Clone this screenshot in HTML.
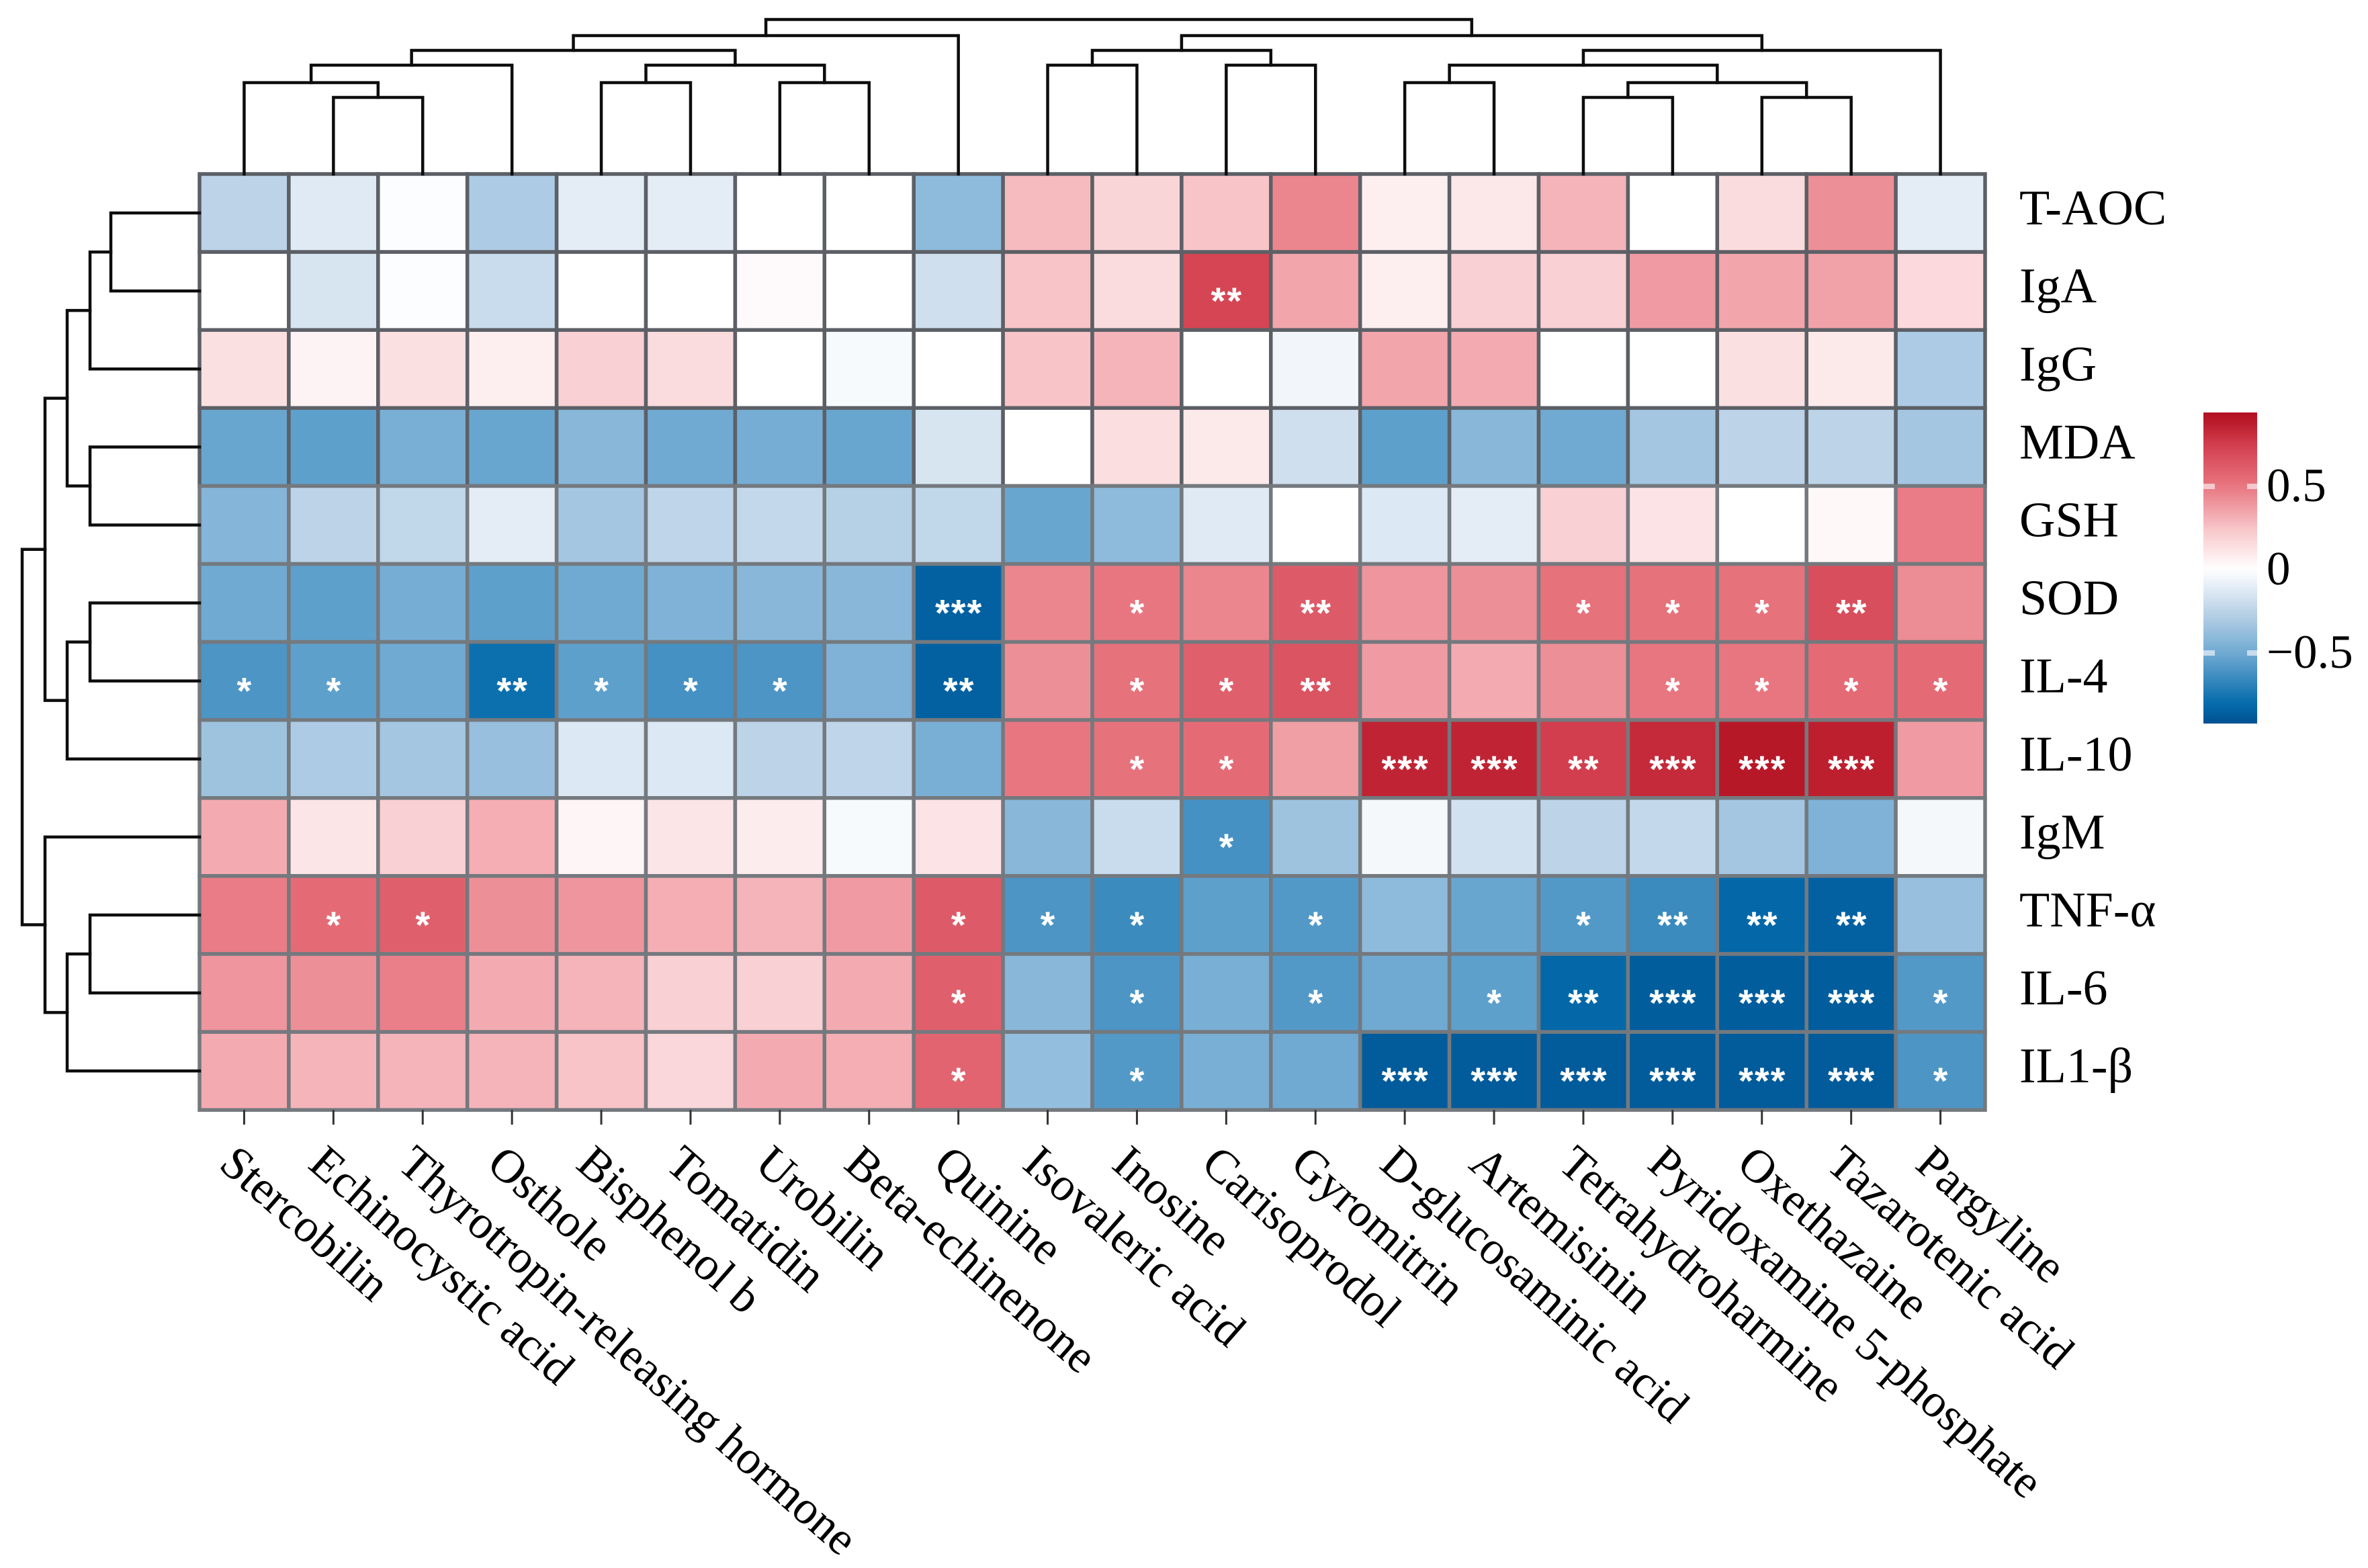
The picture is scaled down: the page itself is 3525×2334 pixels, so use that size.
<!DOCTYPE html>
<html lang="en">
<head>
<meta charset="utf-8">
<title>Metabolite correlation heatmap</title>
<style>
html,body{margin:0;padding:0;background:#fff;}
svg{display:block;}
text{font-family:"Liberation Serif",serif;fill:#000;}
.star{font-family:"Liberation Sans",sans-serif;font-weight:bold;fill:#fff;letter-spacing:2px;}
</style>
</head>
<body>
<svg id="chart" xmlns="http://www.w3.org/2000/svg" width="3525" height="2334" viewBox="0 0 3525 2334">
  <defs>
    <linearGradient id="legend-gradient" x1="0" y1="0" x2="0" y2="1"></linearGradient>
  </defs>
  <rect x="0" y="0" width="3525" height="2334" fill="#ffffff"></rect>
</svg>
<script>
const rowLabels = ["T-AOC","IgA","IgG","MDA","GSH","SOD","IL-4","IL-10","IgM","TNF-α","IL-6","IL1-β"];
const colLabels = ["Stercobilin","Echinocystic acid","Thyrotropin-releasing hormone","Osthole","Bisphenol b","Tomatidin","Urobilin","Beta-echinenone","Quinine","Isovaleric acid","Inosine","Carisoprodol","Gyromitrin","D-glucosaminic acid","Artemisinin","Tetrahydroharmine","Pyridoxamine 5-phosphate","Oxethazaine","Tazarotenic acid","Pargyline"];

const valuesTAOC = [-0.25,-0.12,-0.01,-0.3,-0.1,-0.1,0,0,-0.4,0.28,0.18,0.25,0.45,0.07,0.1,0.3,0,0.15,0.42,-0.1];
const valuesIgA  = [0,-0.15,-0.01,-0.2,0,0,0.02,0,-0.18,0.25,0.15,0.72,0.35,0.07,0.2,0.2,0.38,0.35,0.36,0.16];
const valuesIgG  = [0.13,0.05,0.13,0.07,0.2,0.15,0,-0.03,0,0.25,0.3,0,-0.05,0.35,0.33,0,0,0.13,0.09,-0.3];
const valuesMDA  = [-0.52,-0.55,-0.47,-0.52,-0.42,-0.5,-0.48,-0.52,-0.15,0,0.14,0.09,-0.18,-0.55,-0.42,-0.5,-0.33,-0.25,-0.25,-0.33];
const valuesGSH  = [-0.43,-0.25,-0.23,-0.1,-0.33,-0.24,-0.22,-0.27,-0.23,-0.52,-0.4,-0.12,0,-0.13,-0.1,0.2,0.12,0,0.03,0.48];
const valuesSOD  = [-0.5,-0.55,-0.48,-0.55,-0.5,-0.45,-0.42,-0.42,-0.85,0.45,0.5,0.45,0.62,0.4,0.42,0.52,0.52,0.52,0.68,0.43];
const valuesIL4  = [-0.6,-0.55,-0.5,-0.78,-0.55,-0.62,-0.6,-0.45,-0.85,0.42,0.52,0.6,0.65,0.38,0.33,0.42,0.5,0.5,0.55,0.55];
const valuesIL10 = [-0.35,-0.3,-0.33,-0.37,-0.13,-0.13,-0.25,-0.24,-0.47,0.5,0.52,0.55,0.37,0.85,0.85,0.75,0.83,0.9,0.87,0.38];
const valuesIgM  = [0.33,0.11,0.2,0.32,0.04,0.11,0.08,-0.03,0.12,-0.42,-0.2,-0.62,-0.35,-0.04,-0.17,-0.25,-0.22,-0.33,-0.45,-0.04];
const valuesTNF  = [0.48,0.55,0.6,0.42,0.4,0.32,0.3,0.38,0.62,-0.6,-0.65,-0.55,-0.58,-0.4,-0.52,-0.58,-0.65,-0.82,-0.85,-0.37];
const valuesIL6  = [0.4,0.42,0.47,0.33,0.3,0.2,0.2,0.33,0.6,-0.42,-0.6,-0.47,-0.58,-0.5,-0.55,-0.82,-0.87,-0.87,-0.87,-0.58];
const valuesIL1B = [0.33,0.3,0.3,0.3,0.25,0.17,0.33,0.32,0.58,-0.38,-0.58,-0.47,-0.5,-0.88,-0.88,-0.88,-0.88,-0.88,-0.88,-0.6];
const matrix = [valuesTAOC,valuesIgA,valuesIgG,valuesMDA,valuesGSH,valuesSOD,valuesIL4,valuesIL10,valuesIgM,valuesTNF,valuesIL6,valuesIL1B];

const starsTAOC = [0,0,0,0,0,0,0,0,0,0,0,0,0,0,0,0,0,0,0,0];
const starsIgA  = [0,0,0,0,0,0,0,0,0,0,0,2,0,0,0,0,0,0,0,0];
const starsIgG  = [0,0,0,0,0,0,0,0,0,0,0,0,0,0,0,0,0,0,0,0];
const starsMDA  = [0,0,0,0,0,0,0,0,0,0,0,0,0,0,0,0,0,0,0,0];
const starsGSH  = [0,0,0,0,0,0,0,0,0,0,0,0,0,0,0,0,0,0,0,0];
const starsSOD  = [0,0,0,0,0,0,0,0,3,0,1,0,2,0,0,1,1,1,2,0];
const starsIL4  = [1,1,0,2,1,1,1,0,2,0,1,1,2,0,0,0,1,1,1,1];
const starsIL10 = [0,0,0,0,0,0,0,0,0,0,1,1,0,3,3,2,3,3,3,0];
const starsIgM  = [0,0,0,0,0,0,0,0,0,0,0,1,0,0,0,0,0,0,0,0];
const starsTNF  = [0,1,1,0,0,0,0,0,1,1,1,0,1,0,0,1,2,2,2,0];
const starsIL6  = [0,0,0,0,0,0,0,0,1,0,1,0,1,0,1,2,3,3,3,1];
const starsIL1B = [0,0,0,0,0,0,0,0,1,0,1,0,0,3,3,3,3,3,3,1];
const starMatrix = [starsTAOC,starsIgA,starsIgG,starsMDA,starsGSH,starsSOD,starsIL4,starsIL10,starsIgM,starsTNF,starsIL6,starsIL1B];

const legendTicks = [0.5,0,-0.5];
const legendTickLabels = ["0.5","0","−0.5"];

/* Dendrogram merges: [childA, childB, height]. Numbers are leaves, "m#" refers to an earlier merge. */
const colMerges = [
  [1,2,114],["m0",0,136],["m1",3,162],
  [4,5,136],[6,7,136],["m3","m4",162],["m2","m5",184],["m6",8,206],
  [9,10,162],[11,12,162],["m8","m9",184],
  [13,14,136],[15,16,114],[17,18,114],["m12","m13",136],["m11","m14",162],["m15",19,184],
  ["m10","m16",206],["m7","m17",230]
];
const rowMerges = [
  [0,1,132],["m0",2,163],[3,4,163],["m1","m2",197],
  [5,6,163],["m4",7,197],["m3","m5",230],
  [9,10,163],["m7",11,197],[8,"m8",230],["m6","m9",264]
];

const NS = "http://www.w3.org/2000/svg";
const svg = document.getElementById("chart");
const heatLeft = 297, heatTop = 259, cellW = 132.9, cellH = 116.1;
const legendX = 3280, legendW = 80, legendTop = 614, legendBottom = 1077, legendZeroY = 848, legendPerUnit = 248;

function xBand(i){ return heatLeft + cellW * i; }
function yBand(j){ return heatTop + cellH * j; }
function xCenter(i){ return xBand(i) + cellW / 2; }
function yCenter(j){ return yBand(j) + cellH / 2; }
function legendY(v){ return legendZeroY - v * legendPerUnit; }
function legendValue(y){ return (legendZeroY - y) / legendPerUnit; }

const colorStops = [
  [-0.93,[0,80,145]],[-0.8,[5,108,172]],[-0.5,[112,170,210]],[-0.25,[188,211,232]],[0,[255,255,255]],
  [0.25,[248,196,200]],[0.5,[232,118,128]],[0.75,[210,62,78]],[0.93,[178,16,32]]
];
function colorScale(v){
  if (v <= colorStops[0][0]) return "rgb(" + colorStops[0][1].join(",") + ")";
  for (let k = 1; k < colorStops.length; k++){
    if (v <= colorStops[k][0]){
      const a = colorStops[k-1], b = colorStops[k];
      const t = (v - a[0]) / (b[0] - a[0]);
      const c = a[1].map(function(p,n){ return Math.round(p + (b[1][n] - p) * t); });
      return "rgb(" + c.join(",") + ")";
    }
  }
  return "rgb(" + colorStops[colorStops.length-1][1].join(",") + ")";
}
function make(tag, attrs, parent){
  const el = document.createElementNS(NS, tag);
  for (const k in attrs) el.setAttribute(k, attrs[k]);
  (parent || svg).appendChild(el);
  return el;
}

/* heatmap cells */
const cellsGroup = make("g", {});


matrix.forEach(function(row, j){
  row.forEach(function(v, i){
    const cell = make("rect", {x:xBand(i), y:yBand(j), width:cellW, height:cellH, fill:colorScale(v), stroke:(j < 4 ? "#5c6066" : "#74797e"), "stroke-width":5.5}, cellsGroup);
    
    
  });
});

/* significance stars */
const starsGroup = make("g", {});


starMatrix.forEach(function(row, j){
  row.forEach(function(n, i){
    if (!n) return;
    const star = make("text", {x:xCenter(i) + 1, y:yCenter(j) + 34, "text-anchor":"middle", "font-size":56, class:"star"}, starsGroup);
    star.textContent = "*".repeat(n);
    
    
  });
});

/* row labels */
rowLabels.forEach(function(label, j){
  const t = make("text", {x:3006, y:yCenter(j) + 17, "font-size":74});
  t.textContent = label;
  
  
});

/* column ticks and labels */
colLabels.forEach(function(label, i){
  const tick = make("line", {x1:xCenter(i), x2:xCenter(i), y1:heatTop + cellH * rowLabels.length, y2:1674, stroke:"#333", "stroke-width":3});
  
  
  const px = xCenter(i) - 40, py = 1737;
  const t = make("text", {x:px, y:py, "font-size":70, transform:"rotate(41.3 " + px + " " + py + ")"});
  t.textContent = label;
  
  
});

/* dendrograms */
function drawDendrogram(merges, leafPos, toLevel, base, horizontalRoot, name){
  const group = make("g", {fill:"none", stroke:"#0d0d0d", "stroke-width":4.5, "stroke-linecap":"square"});
  
  
  const nodes = [];
  function resolve(ref){
    if (typeof ref === "number") return {pos:leafPos(ref), level:base};
    return nodes[parseInt(ref.slice(1), 10)];
  }
  merges.forEach(function(m){
    const a = resolve(m[0]), b = resolve(m[1]);
    const level = toLevel(m[2]);
    const d = horizontalRoot
      ? "M" + a.pos + " " + a.level + "V" + level + "H" + b.pos + "V" + b.level
      : "M" + a.level + " " + a.pos + "H" + level + "V" + b.pos + "H" + b.level;
    const p = make("path", {d:d}, group);
    
    
    nodes.push({pos:(a.pos + b.pos) / 2, level:level});
  });
}
drawDendrogram(colMerges, xCenter, function(h){ return heatTop - h; }, heatTop, true, 'column-dendrogram');
drawDendrogram(rowMerges, yCenter, function(h){ return heatLeft - h; }, heatLeft, false, 'row-dendrogram');

/* colour legend */
const grad = document.getElementById("legend-gradient");
for (let k = 0; k <= 40; k++){
  const y = legendTop + (legendBottom - legendTop) * k / 40;
  make("stop", {offset:(k / 40), "stop-color":colorScale(legendValue(y))}, grad);
}
const bar = make("rect", {x:legendX, y:legendTop, width:legendW, height:legendBottom - legendTop, fill:"url(#legend-gradient)"});


legendTicks.forEach(function(v, k){
  const y = legendY(v);
  if (v !== 0){
    const left = make("rect", {x:legendX, y:y - 4, width:17, height:8, fill:"#fff", "fill-opacity":0.6});
    
    
    const right = make("rect", {x:legendX + legendW - 15, y:y - 4, width:15, height:8, fill:"#fff", "fill-opacity":0.6});
    
    
  }
  const t = make("text", {x:3374, y:y + 22, "font-size":71});
  t.textContent = legendTickLabels[k];
  
  
});
</script>
</body>
</html>
